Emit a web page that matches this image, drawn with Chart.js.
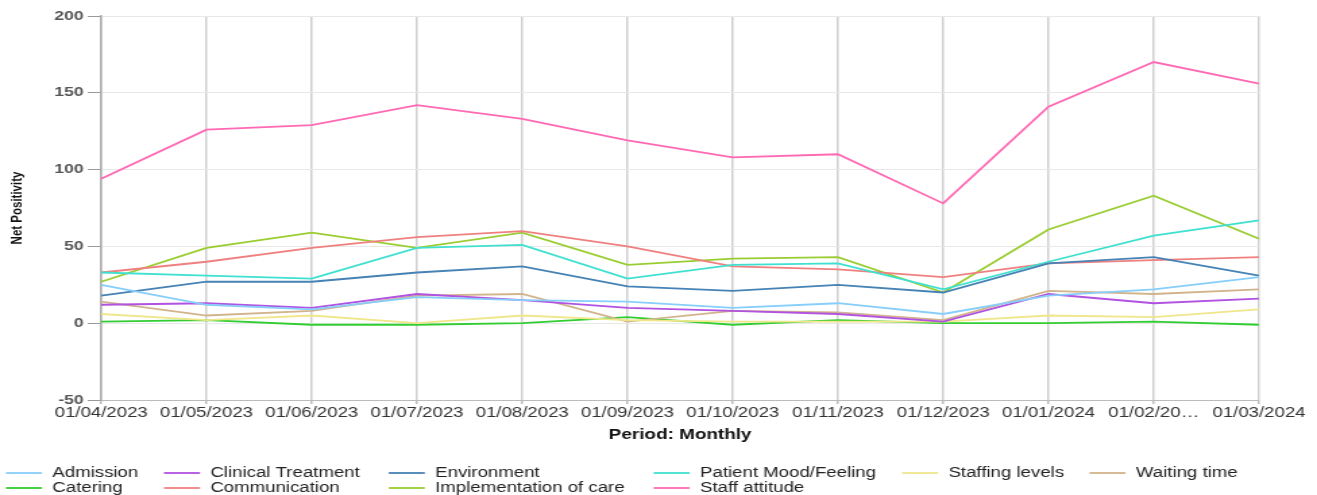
<!DOCTYPE html>
<html>
<head>
<meta charset="utf-8">
<script src="https://cdn.jsdelivr.net/npm/chart.js@4.4.1/dist/chart.umd.min.js"></script>
<style>
  html, body { margin: 0; padding: 0; background: #fff; overflow: hidden; }
  #wrap {
    position: absolute; left: 0; top: 0;
    width: 976px; height: 495px;
    transform: scaleX(1.3494); transform-origin: 0 0;
  }
</style>
</head>
<body>
<div id="wrap"><canvas id="chart"></canvas></div>
<script>
// Monthly periods and the labels shown under the axis
const periods = ['01/04/2023','01/05/2023','01/06/2023','01/07/2023','01/08/2023','01/09/2023',
                 '01/10/2023','01/11/2023','01/12/2023','01/01/2024','01/02/2024','01/03/2024'];
const periodTickLabels = ['01/04/2023','01/05/2023','01/06/2023','01/07/2023','01/08/2023','01/09/2023',
                          '01/10/2023','01/11/2023','01/12/2023','01/01/2024','01/02/20\u2026','01/03/2024'];
const yTicks = [-50, 0, 50, 100, 150, 200];

// Net positivity per theme
const admission      = [25, 12,  9, 17, 15, 14, 10, 13,  6, 18, 22, 30];
const clinical       = [12, 13, 10, 19, 15, 10,  8,  6,  1, 19, 13, 16];
const environment    = [18, 27, 27, 33, 37, 24, 21, 25, 20, 39, 43, 31];
const patientMood    = [33, 31, 29, 49, 51, 29, 38, 39, 22, 40, 57, 67];
const staffing       = [ 6,  2,  5,  0,  5,  2,  1,  1,  1,  5,  4,  9];
const waitingTime    = [14,  5,  8, 18, 19,  1,  8,  7,  2, 21, 19, 22];
const catering       = [ 1,  2, -1, -1,  0,  4, -1,  2,  0,  0,  1, -1];
const communication  = [33, 40, 49, 56, 60, 50, 37, 35, 30, 39, 41, 43];
const implementation = [27, 49, 59, 49, 59, 38, 42, 43, 20, 61, 83, 55];
const staffAttitude  = [94,126,129,142,133,119,108,110, 78,141,170,156];

const themeNames = ['Admission','Clinical Treatment','Environment','Patient Mood/Feeling','Staffing levels',
                    'Waiting time','Catering','Communication','Implementation of care','Staff attitude'];
const themeValues = [admission, clinical, environment, patientMood, staffing,
                     waitingTime, catering, communication, implementation, staffAttitude];
const themeColors = ['lightskyblue','#b152e0','steelblue','turquoise','khaki',
                     'tan','limegreen','lightcoral','yellowgreen','hotpink'];

const FONT = '"Liberation Sans", Arial, sans-serif';

// Legend laid out in fixed columns, two rows, below the axis title
const gridLegend = {
  id: 'gridLegend',
  afterDraw(chart, args, opts) {
    const ctx = chart.ctx;
    ctx.save();
    ctx.font = opts.font;
    ctx.textBaseline = 'middle';
    ctx.textAlign = 'left';
    chart.data.datasets.forEach((ds, i) => {
      const row = i < opts.perRow ? 0 : 1;
      const col = i < opts.perRow ? i : i - opts.perRow;
      const x = opts.columns[col];
      const y = opts.rows[row];
      ctx.strokeStyle = ds.borderColor;
      ctx.lineWidth = 1.8;
      ctx.beginPath();
      ctx.moveTo(x, y);
      ctx.lineTo(x + opts.lineLength, y);
      ctx.stroke();
      ctx.fillStyle = opts.color;
      ctx.fillText(ds.label, x + opts.textOffset, y + 0.5);
    });
    ctx.restore();
  }
};

new Chart(document.getElementById('chart'), {
  type: 'line',
  data: {
    labels: periods,
    datasets: themeNames.map((name, i) => ({
      label: name,
      data: themeValues[i],
      borderColor: themeColors[i],
      backgroundColor: themeColors[i],
      borderWidth: 1.8,
      pointRadius: 0,
      tension: 0,
      fill: false
    }))
  },
  options: {
    responsive: true,
    maintainAspectRatio: false,
    animation: false,
    layout: { padding: { top: 16, right: 43, bottom: 50, left: 0 } },
    plugins: {
      legend: { display: false },
      tooltip: { enabled: false },
      gridLegend: {
        perRow: 6,
        columns: [4.4, 121.5, 288.1, 484.4, 668.5, 807.4],
        rows: [473, 488],
        lineLength: 26.7,
        textOffset: 34.4,
        font: '13.8px ' + FONT,
        color: '#222'
      }
    },
    scales: {
      x: {
        offset: false,
        afterFit(scale) { scale.height = 45; },
        grid: { color: '#cfcfcf', lineWidth: 1.5, tickLength: 4, tickColor: '#bbb' },
        border: { color: '#bbb' },
        ticks: {
          autoSkip: false, maxRotation: 0, padding: 1,
          color: '#333',
          font: { family: FONT, size: 13.8 },
          callback: (v, i) => periodTickLabels[i]
        },
        title: {
          display: true, text: 'Period: Monthly', color: '#111',
          font: { family: FONT, size: 14, weight: 'bold' },
          padding: { top: 2, bottom: 1.6 }
        }
      },
      y: {
        min: yTicks[0], max: yTicks[yTicks.length - 1],
        afterFit(scale) { scale.width = 75; },
        afterBuildTicks(scale) { scale.ticks = yTicks.map(v => ({ value: v })); },
        grid: { color: '#e8e8e8', lineWidth: 1, tickLength: 10, tickColor: '#999' },
        border: { color: '#aaa', width: 1.5 },
        ticks: {
          padding: 3, color: '#555',
          font: { family: FONT, size: 13, weight: 'bold' }
        },
        title: {
          display: true, text: 'Net Positivity', color: '#111',
          font: { family: FONT, size: 11.5, weight: 'bold' },
          padding: { top: 5.5, bottom: 0 }
        }
      }
    }
  },
  plugins: [gridLegend]
});
</script>
</body>
</html>
